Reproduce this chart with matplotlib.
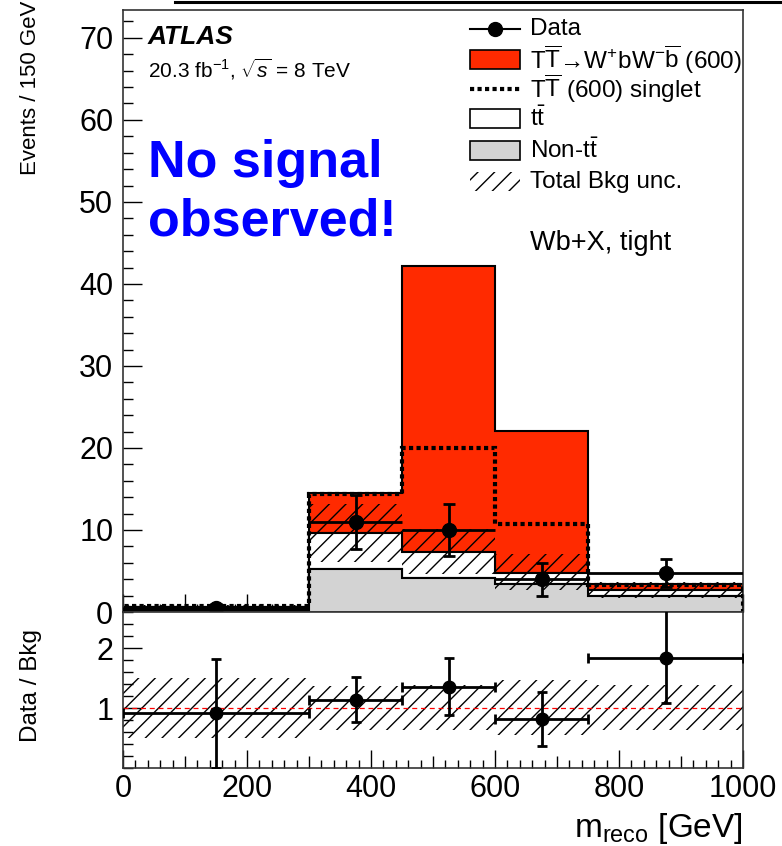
import numpy as np
import matplotlib
matplotlib.use('Agg')
import matplotlib.pyplot as plt
from matplotlib.lines import Line2D
from matplotlib.patches import Rectangle

plt.rcParams['font.family'] = ['Liberation Sans', 'DejaVu Sans']
plt.rcParams['mathtext.fontset'] = 'custom'
plt.rcParams['mathtext.rm'] = 'Liberation Sans'
plt.rcParams['mathtext.it'] = 'Liberation Sans:italic'
plt.rcParams['mathtext.bf'] = 'Liberation Sans:bold'
plt.rcParams['hatch.linewidth'] = 1.0

# binning of m_reco [GeV]
edges = [0, 300, 450, 600, 750, 1000]

# stack components, events / 150 GeV
non_tt = [0.25, 5.2, 4.1, 3.4, 2.0]
tt = [0.3, 4.4, 3.2, 1.4, 0.65]
signal = [0.05, 4.9, 34.9, 17.3, 0.75]
singlet_total = [0.7, 14.4, 20.0, 10.7, 3.3]

# data
data_x = [150, 375, 525, 675, 875]
data_xerr = [150, 75, 75, 75, 125]
data_y = [0.5, 11.0, 10.0, 4.0, 4.8]
data_yerr = [0.5, 3.3, 3.2, 2.0, 1.7]

# relative background uncertainty band
unc_lo = [0.50, 0.63, 0.63, 0.55, 0.64]
unc_hi = [1.50, 1.37, 1.38, 1.47, 1.39]

# ratio data / bkg
ratio_y = [0.91, 1.14, 1.35, 0.81, 1.83]
ratio_err_lo = [0.91, 0.38, 0.47, 0.45, 0.74]
ratio_err_hi = [0.91, 0.38, 0.49, 0.46, 0.80]

legend_labels = [
    'Data',
    r'T$\overline{\mathrm{T}}$→W$^{+}$bW$^{-}$$\overline{\mathrm{b}}$ (600)',
    r'T$\overline{\mathrm{T}}$ (600) singlet',
    r't$\bar{\mathrm{t}}$',
    r'Non-t$\bar{\mathrm{t}}$',
    'Total Bkg unc.',
]

RED = '#ff2a00'
GRAY = '#d3d3d3'
DOTS = (0, (1, 0.8))

edges = np.array(edges, dtype=float)
non_tt = np.array(non_tt)
tt_top = non_tt + np.array(tt)
sig_top = tt_top + np.array(signal)
bkg = tt_top

fig = plt.figure(figsize=(7.82, 8.46), dpi=100)
W, H = 782.0, 846.0
ax = fig.add_axes([123 / W, 1 - 612 / H, 620 / W, 602 / H])
rax = fig.add_axes([123 / W, 1 - 768 / H, 620 / W, 156 / H], sharex=ax)

# ---- main panel ----
ax.stairs(sig_top, edges, baseline=tt_top, fill=True, facecolor=RED, edgecolor='black', lw=1.5, zorder=2)
ax.stairs(tt_top, edges, baseline=non_tt, fill=True, facecolor='white', edgecolor='black', lw=1.5, zorder=2)
ax.stairs(non_tt, edges, baseline=0, fill=True, facecolor=GRAY, edgecolor='black', lw=1.5, zorder=2)
ax.stairs(bkg * np.array(unc_hi), edges, baseline=bkg * np.array(unc_lo), fill=True,
          facecolor='none', edgecolor='black', hatch='//', lw=0, zorder=3)
ax.stairs(singlet_total, edges, baseline=0, color='black', lw=3, ls=DOTS, zorder=4)

ax.errorbar(data_x, data_y, xerr=data_xerr, fmt='none', ecolor='black', elinewidth=2, capsize=0, zorder=5)
ax.errorbar(data_x, data_y, yerr=data_yerr, fmt='o', color='black', ms=10, elinewidth=2,
            capsize=4, capthick=2, zorder=6)

ax.set_xlim(0, 1000)
ax.set_ylim(0, 73.4)
ax.set_yticks(np.arange(0, 71, 10))
ax.set_yticks(np.arange(0, 73, 2), minor=True)


def px(x, y):
    # figure pixel position -> main axes fraction
    return (x - 123) / 620, (612 - y) / 602


ax.text(*px(148, 37), 'ATLAS', transform=ax.transAxes, fontsize=19,
        fontweight='bold', style='italic', va='center', ha='left')
ax.text(*px(148, 69), r'20.3 fb$^{-1}$, $\sqrt{s}$ = 8 TeV', transform=ax.transAxes,
        fontsize=15, va='center', ha='left')
ax.text(*px(148, 177), 'No signal', transform=ax.transAxes, fontsize=37.5,
        fontweight='bold', color='#0000ff', va='baseline', ha='left')
ax.text(*px(148, 235), 'observed!', transform=ax.transAxes, fontsize=37.5,
        fontweight='bold', color='#0000ff', va='baseline', ha='left')
ax.text(*px(530, 243), 'Wb+X, tight', transform=ax.transAxes,
        fontsize=19.5, va='center', ha='left')

# legend, laid out row by row like the ROOT one
row_y = [29, 60, 89, 119, 151, 182]
x0, x1 = px(470, 0)[0], px(520, 0)[0]
box_h = 19 / 602
for i, (yy, lab) in enumerate(zip(row_y, legend_labels)):
    yc = px(0, yy)[1]
    if i == 0:
        ax.plot([x0, x1], [yc, yc], color='black', lw=1.5, transform=ax.transAxes, clip_on=False)
        ax.plot([(x0 + x1) / 2], [yc], 'o', color='black', ms=10, transform=ax.transAxes, clip_on=False)
    elif i == 2:
        ax.plot([x0, x1], [yc, yc], color='black', lw=3, ls=DOTS, transform=ax.transAxes, clip_on=False)
    else:
        style = {1: dict(facecolor=RED, edgecolor='black', lw=1.2),
                 3: dict(facecolor='white', edgecolor='black', lw=1.2),
                 4: dict(facecolor=GRAY, edgecolor='black', lw=1.2),
                 5: dict(facecolor='none', edgecolor='black', hatch='//', lw=0)}[i]
        ax.add_patch(Rectangle((x0, yc - box_h / 2), x1 - x0, box_h, transform=ax.transAxes, **style))
    ax.text(px(530, 0)[0], yc, lab, transform=ax.transAxes, fontsize=17.5, va='center', ha='left')

# ---- ratio panel ----
rax.stairs(unc_hi, edges, baseline=unc_lo, fill=True, facecolor='none', edgecolor='black',
           hatch='//', lw=0, zorder=2)
rax.axhline(1.0, color='red', lw=0.9, ls=(0, (4, 3)), zorder=3)
rax.errorbar(data_x, ratio_y, xerr=data_xerr, yerr=[ratio_err_lo, ratio_err_hi], fmt='o',
             color='black', ms=9, elinewidth=2, capsize=3.5, capthick=2, zorder=5)
rax.set_ylim(0, 2.6)
rax.set_yticks([1, 2])
rax.set_yticks(np.arange(0, 2.61, 0.2), minor=True)
rax.set_xticks(np.arange(0, 1001, 100))
rax.set_xticks(np.arange(0, 1001, 20), minor=True)
rax.set_xticklabels([str(v) if v % 200 == 0 else '' for v in range(0, 1001, 100)])
rax.set_xlim(0, 1000)

for a in (ax, rax):
    a.tick_params(which='both', direction='in', top=False, right=False, labelsize=22)
    a.tick_params(axis='y', which='major', length=14, width=1, pad=7)
    a.tick_params(axis='y', which='minor', length=7, width=1)
    a.tick_params(axis='x', which='major', length=13, width=1, pad=4)
    a.tick_params(axis='x', which='minor', length=6, width=1)
    for s in a.spines.values():
        s.set_linewidth(1.2)
        s.set_color('#333333')
    for t in a.xaxis.get_major_ticks():
        if round(t.get_loc()) % 200 != 0:
            t.tick1line.set_markersize(9)
ax.tick_params(labelbottom=False)

fig.text(31 / W, 1 - 1 / H, 'Events / 150 GeV', rotation=90, ha='center', va='top', fontsize=16)
fig.text(31 / W, 1 - 686 / H, 'Data / Bkg', rotation=90, ha='center', va='center', fontsize=17.5)
fig.text(743 / W, 1 - 828 / H, r'm$_{\mathrm{reco}}$ [GeV]', ha='right', va='center', fontsize=24)

fig.add_artist(Line2D([175 / W, 1.0], [1 - 2.5 / H, 1 - 2.5 / H], color='black', lw=2.2))

fig.savefig('out.png', dpi=100)
